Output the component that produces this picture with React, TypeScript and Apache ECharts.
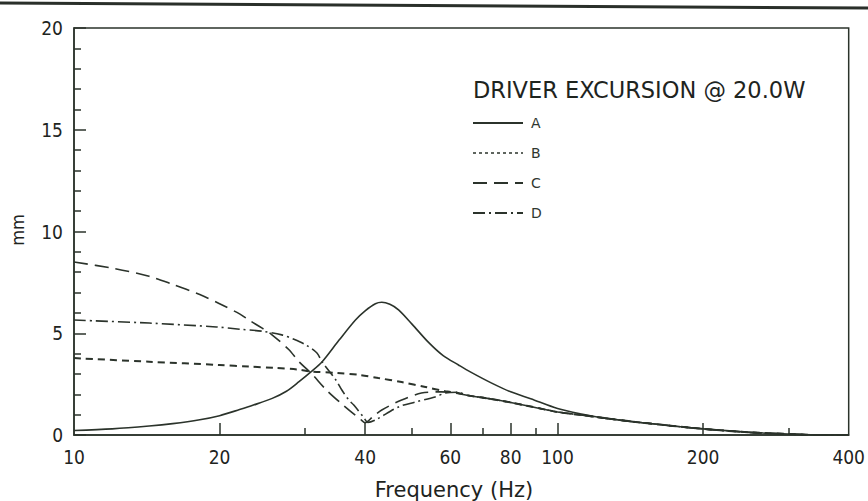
import React, { useEffect, useRef } from "react";
import * as echarts from "echarts";

// Frequencies (Hz) and excursions (mm)
const freqA = [10, 12, 14.3, 16, 18.2, 20, 22, 23.5, 25.7, 27.5, 29.2, 30.9, 32.6, 35.3, 38.2, 40, 42, 43.3, 45, 46.9, 50, 54.1, 58, 62.4, 66, 72.9, 80, 88, 100, 112, 125, 150, 200, 250, 300, 350, 400];
const valA = [0.22, 0.3, 0.44, 0.56, 0.75, 0.95, 1.25, 1.47, 1.8, 2.15, 2.62, 3.1, 3.6, 4.65, 5.65, 6.1, 6.45, 6.52, 6.42, 6.15, 5.45, 4.55, 3.9, 3.44, 3.1, 2.56, 2.12, 1.78, 1.3, 1.03, 0.83, 0.6, 0.3, 0.13, 0.05, 0, 0];

const freqB = [10, 14.3, 20, 23, 26, 29, 31, 35, 39, 42.6, 47.6, 53.3, 58.6, 62, 65, 69.4, 75, 80, 88, 100, 112, 125, 150, 200, 250, 300, 350, 400];
const valB = [3.78, 3.6, 3.44, 3.36, 3.3, 3.22, 3.12, 3.05, 2.95, 2.8, 2.6, 2.36, 2.15, 2.08, 1.95, 1.85, 1.72, 1.6, 1.4, 1.13, 0.98, 0.83, 0.6, 0.3, 0.13, 0.05, 0, 0];

const freqC = [10, 12, 14.3, 16, 18.2, 20, 22, 23, 24.5, 25.6, 27.8, 29.2, 30.9, 33.3, 36.1, 39.2, 40, 41.5, 43.3, 47.6, 52.3, 57.5, 60, 65, 69.4, 75, 80, 88, 100, 112, 125, 150, 200, 250, 300, 350, 400];
const valC = [8.5, 8.2, 7.8, 7.4, 6.9, 6.45, 5.95, 5.65, 5.25, 4.95, 4.2, 3.6, 3.05, 2.2, 1.45, 0.75, 0.6, 0.9, 1.23, 1.72, 2.06, 2.12, 2.1, 1.95, 1.85, 1.72, 1.6, 1.4, 1.13, 0.98, 0.83, 0.6, 0.3, 0.13, 0.05, 0, 0];

const freqD = [10, 14.3, 19.7, 22, 24.5, 26.9, 28.5, 30.2, 31.8, 32.6, 34.8, 35.8, 37, 37.9, 39.8, 40.5, 42, 46.9, 50.8, 55.8, 58.6, 62, 65, 69.4, 75, 80, 88, 100, 112, 125, 150, 200, 250, 300, 350, 400];
const valD = [5.65, 5.5, 5.31, 5.2, 5.1, 4.92, 4.7, 4.42, 4.03, 3.59, 2.7, 2.21, 1.72, 1.47, 0.84, 0.62, 0.74, 1.38, 1.62, 1.87, 2.06, 2.1, 1.95, 1.85, 1.72, 1.6, 1.4, 1.13, 0.98, 0.83, 0.6, 0.3, 0.13, 0.05, 0, 0];

const seriesNames = ["A", "B", "C", "D"];
const xTickLabels = [10, 20, 40, 60, 80, 100, 200, 400];
const xMajorTicks = [20, 40, 60, 80, 100, 200];
const xMinorTicks = [30, 50, 70, 90, 300];

const titleText = "DRIVER EXCURSION @ 20.0W";
const xName = "Frequency (Hz)";
const yName = "mm";

const pair = (f: number[], v: number[]) => f.map((x, i) => [x, v[i]]);

export default function App() {
  const ref = useRef<HTMLDivElement>(null);
  useEffect(() => {
    if (!ref.current) return;
    const chart = echarts.init(ref.current, null, { renderer: "svg" });
    const ink = "#2b332b";
    const textInk = "#1e241e";
    const plotFont = "'DejaVu Sans Condensed', 'Liberation Sans Narrow', 'DejaVu Sans', sans-serif";
    const sansFont = "'DejaVu Sans', 'Liberation Sans', sans-serif";

    const styles: any[] = [
      { type: "solid", width: 1.6 },
      { type: [7, 5], width: 2 },
      { type: [14, 7], width: 1.6 },
      { type: [12, 4, 2, 4], width: 1.6 },
    ];
    const data = [pair(freqA, valA), pair(freqB, valB), pair(freqC, valC), pair(freqD, valD)];

    chart.setOption({
      animation: false,
      backgroundColor: "#ffffff",
      grid: { left: 74, right: 16, top: 28, bottom: 66, show: true, borderColor: ink, borderWidth: 1.5, containLabel: false },
      xAxis: [
        {
          type: "log",
          logBase: 10,
          min: 10,
          max: 400,
          axisLine: { show: true, lineStyle: { color: ink, width: 1.5 } },
          axisTick: { show: true, inside: true, length: 12, customValues: xMajorTicks, lineStyle: { color: ink, width: 1.5 } },
          axisLabel: { customValues: xTickLabels, margin: 12, fontSize: 19, fontFamily: plotFont, color: textInk },
          splitLine: { show: false },
          minorTick: { show: false },
        },
        {
          type: "log",
          logBase: 10,
          min: 10,
          max: 400,
          position: "bottom",
          axisLine: { show: false },
          axisTick: { show: true, inside: true, length: 7, customValues: xMinorTicks, lineStyle: { color: ink, width: 1.5 } },
          axisLabel: { show: false },
          splitLine: { show: false },
        },
      ],
      yAxis: {
        type: "value",
        min: 0,
        max: 20,
        interval: 5,
        axisLine: { show: true, lineStyle: { color: ink, width: 1.5 } },
        axisTick: { show: true, inside: true, length: 12, lineStyle: { color: ink, width: 1.5 } },
        minorTick: { show: true, splitNumber: 5, length: 7, lineStyle: { color: ink, width: 1.5 } },
        axisLabel: { margin: 11, fontSize: 19, fontFamily: plotFont, color: textInk },
        splitLine: { show: false },
      },
      legend: {
        orient: "vertical",
        left: 472,
        top: 116,
        padding: 0,
        itemWidth: 50,
        itemHeight: 14,
        itemGap: 16,
        selectedMode: false,
        itemStyle: { opacity: 0 },
        textStyle: { fontSize: 14, fontFamily: sansFont, color: "#2f372f", padding: [0, 0, 0, 3] },
        data: seriesNames.map((n, i) => (i === 1 ? { name: n, lineStyle: { type: [3, 3], width: 1.5 } } : { name: n })),
      },
      graphic: [
        { type: "line", shape: { x1: 0, y1: 3, x2: 868, y2: 8 }, style: { stroke: "#2a2f2a", lineWidth: 3 } },
        {
          type: "text",
          x: 473,
          y: 90,
          style: { text: titleText, fontSize: 22.5, fontFamily: sansFont, fill: textInk, textAlign: "left", textVerticalAlign: "middle" },
        },
        {
          type: "text",
          x: 454,
          y: 490,
          style: { text: xName, fontSize: 21, fontFamily: sansFont, fill: textInk, textAlign: "center", textVerticalAlign: "middle" },
        },
        {
          type: "text",
          x: 17,
          y: 230,
          rotation: Math.PI / 2,
          style: { text: yName, fontSize: 18, fontFamily: plotFont, fill: textInk, textAlign: "center", textVerticalAlign: "middle" },
        },
      ],
      series: seriesNames.map((n, i) => ({
        name: n,
        type: "line",
        xAxisIndex: 0,
        data: data[i],
        symbol: "none",
        smooth: 0.3,
        lineStyle: { color: ink, ...styles[i] },
        itemStyle: { color: ink },
      })),
    });
    return () => chart.dispose();
  }, []);
  return <div ref={ref} style={{ position: "fixed", left: 0, top: 0, width: 868, height: 501 }} />;
}
